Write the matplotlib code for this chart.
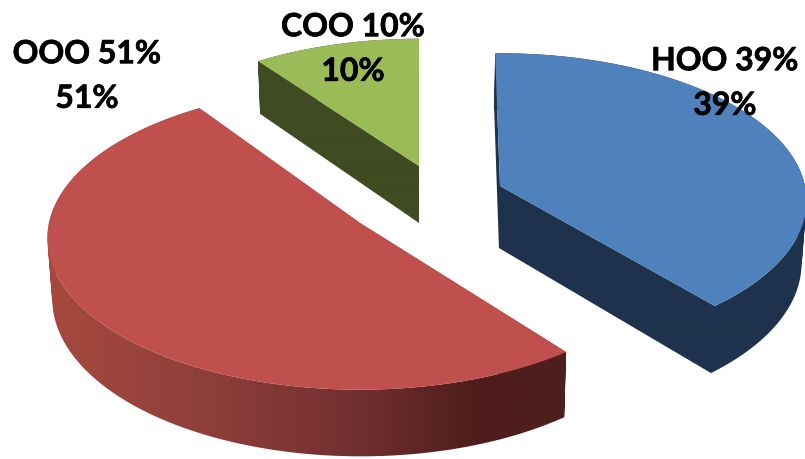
import numpy as np
import matplotlib
matplotlib.use("Agg")
import matplotlib.pyplot as plt
import matplotlib.patheffects as pe
from matplotlib.colors import to_rgb
from matplotlib.patches import Polygon, PathPatch
from matplotlib.path import Path

names = ["HOO", "OOO", "COO"]
shares = [39, 51, 10]

top_colors = ["#4F81BD", "#C0504D", "#9BBB59"]
wall_colors = [["#1E324E", "#1E324E"],
               ["#A5493F", "#8F3F3A", "#733030", "#4E1D1B", "#4E1F1D"],
               ["#404B22", "#404B22"]]
wall_stops = [[0, 805], [55, 200, 350, 480, 560], [0, 805]]

# projection of each exploded slice, in pixels
apex = [(500, 187), (360, 224), (419, 167)]
radius_x = [305, 311, 296]
radius_y = [146, 150, 140]
turn = [-1, 2, 0]
depth = [62, 60, 57]
label_xy = [(725, 84), (87, 77), (353, 50)]

persp = 0.1
shrink = 0.987
mid_x = 420


def project(i, ang):
    x_unit = np.sin(ang)
    y_unit = np.cos(ang)
    w = 1 + persp * y_unit
    return (apex[i][0] + radius_x[i] * x_unit / w,
            apex[i][1] - radius_y[i] * y_unit / w,
            w)


def drop(i, xs, ys, ws):
    return mid_x + (xs - mid_x) * shrink, ys + depth[i] / ws


def quads_path(quads):
    # same winding for every quad, so that overlaps stay filled
    verts = []
    codes = []
    for q in quads:
        q = np.array(q)
        area = np.sum(q[:, 0] * np.roll(q[:, 1], -1) - np.roll(q[:, 0], -1) * q[:, 1])
        if area < 0:
            q = q[::-1]
        verts.extend(q.tolist() + [q[0].tolist()])
        codes.extend([Path.MOVETO, Path.LINETO, Path.LINETO, Path.LINETO, Path.CLOSEPOLY])
    return Path(verts, codes)


plt.rcParams["font.family"] = ["Lato", "DejaVu Sans"]
fig = plt.figure(figsize=(8.05, 4.6), dpi=100)
ax = fig.add_axes([0, 0, 1, 1])

edges = np.cumsum([0] + shares) / sum(shares) * 2 * np.pi
columns = np.arange(0, 806)
for i, name in enumerate(names):
    ang = np.linspace(edges[i], edges[i + 1], 240) + np.radians(turn[i])
    xs, ys, ws = project(i, ang)
    bx, by = drop(i, xs, ys, ws)
    ax_b, ay_b = drop(i, np.array([apex[i][0]]), np.array([apex[i][1]]), np.array([1.0]))

    # side of the slice, a left to right shade clipped to its outline
    quads = []
    for k in range(len(ang) - 1):
        quads.append([(xs[k], ys[k]), (xs[k + 1], ys[k + 1]), (bx[k + 1], by[k + 1]), (bx[k], by[k])])
    for k in (0, -1):
        quads.append([apex[i], (xs[k], ys[k]), (bx[k], by[k]), (ax_b[0], ay_b[0])])

    shades = np.array([to_rgb(c) for c in wall_colors[i]])
    strip = np.stack([np.interp(columns, wall_stops[i], shades[:, n]) for n in range(3)], axis=1)
    clip = PathPatch(quads_path(quads), transform=ax.transData, fc="none", ec="none")
    ax.add_patch(clip)
    im = ax.imshow(strip[np.newaxis, :, :], extent=(0, 805, 460, 0), aspect="auto",
                   interpolation="bilinear", zorder=2 + i)
    im.set_clip_path(clip)

    # top face
    outline = [apex[i]] + list(zip(xs, ys))
    ax.add_patch(Polygon(outline, closed=True, fc=top_colors[i], ec="none", zorder=6))

    txt = ax.text(label_xy[i][0], label_xy[i][1], f"{name} {shares[i]}%\n{shares[i]}%",
                  ha="center", va="center", ma="center", fontsize=23, fontweight="bold",
                  color="black", linespacing=1.65, zorder=8)
    txt.set_path_effects([pe.withStroke(linewidth=0.5, foreground="black")])

ax.set_xlim(0, 805)
ax.set_ylim(460, 0)
ax.axis("off")

fig.savefig("out.png", dpi=100, facecolor="white")
